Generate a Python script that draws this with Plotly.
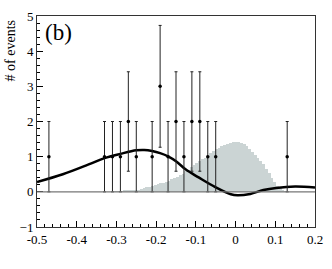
import numpy as np
import plotly.graph_objects as go

# Data points (events) with sqrt(N) errors
pt_x = [-0.47, -0.33, -0.31, -0.29, -0.27, -0.25, -0.21, -0.19, -0.17, -0.15,
        -0.13, -0.11, -0.09, -0.07, -0.05, 0.13]
pt_y = [1, 1, 1, 1, 2, 1, 1, 3, 1, 2, 1, 2, 2, 1, 1, 1]

# Histogram (bin width 0.007), bin centers and heights
hist_w = 0.007
hist_x0 = -0.3075
hist_y = [0.01, 0.01, 0.02, 0.02, 0.03, 0.03, 0.04, 0.05, 0.05, 0.06,
          0.08, 0.10, 0.13, 0.15, 0.18, 0.20, 0.22, 0.24, 0.26, 0.29,
          0.32, 0.36, 0.39, 0.43, 0.47, 0.52, 0.58, 0.63, 0.70, 0.76,
          0.83, 0.88, 0.93, 0.97, 1.03, 1.10, 1.16, 1.22, 1.26, 1.30,
          1.33, 1.36, 1.39, 1.41, 1.42, 1.42, 1.40, 1.36, 1.30, 1.22,
          1.12, 1.04, 0.96, 0.88, 0.78, 0.66, 0.53, 0.40, 0.28, 0.18,
          0.10, 0.05, 0.02]
hist_x = [round(hist_x0 + i * hist_w, 4) for i in range(len(hist_y))]

# Fitted curve
curve_x = [-0.5, -0.435, -0.37, -0.33, -0.29, -0.25, -0.23, -0.21, -0.19, -0.17,
           -0.15, -0.126, -0.093, -0.052, -0.012, 0.005, 0.037, 0.07, 0.102, 0.15, 0.2]
curve_y = [0.28, 0.5, 0.78, 0.96, 1.08, 1.18, 1.19, 1.16, 1.10, 1.01,
           0.87, 0.64, 0.41, 0.14, -0.07, -0.1, -0.06, 0.05, 0.11, 0.15, 0.12]

x_ticks = [-0.5, -0.4, -0.3, -0.2, -0.1, 0, 0.1, 0.2]
x_labels = ["-0.5", "-0.4", "-0.3", "-0.2", "-0.1", "0", "0.1", "0.2"]
y_ticks = [-1, 0, 1, 2, 3, 4, 5]

fig = go.Figure()
fig.add_trace(go.Bar(x=hist_x, y=hist_y, width=hist_w,
                     marker=dict(color="#cbd4d4", line=dict(width=0)),
                     showlegend=False))
fig.add_shape(type="line", xref="paper", x0=0, x1=1, yref="y", y0=0, y1=0,
              line=dict(color="#777777", width=1.2))
fig.add_trace(go.Scatter(x=curve_x, y=curve_y, mode="lines",
                         line=dict(color="black", width=2.5, shape="spline", smoothing=1.0),
                         showlegend=False))
fig.add_trace(go.Scatter(x=pt_x, y=pt_y, mode="markers",
                         marker=dict(color="black", size=3.5, symbol="circle"),
                         error_y=dict(type="data", array=list(np.sqrt(pt_y)),
                                      color="#222222", thickness=1, width=1.5),
                         showlegend=False))

font = "Liberation Serif"
fig.update_layout(
    width=332, height=269,
    margin=dict(l=37, r=9, t=9, b=42),
    paper_bgcolor="white", plot_bgcolor="white",
    bargap=0,
    font=dict(family=font, size=13, color="black"),
    xaxis=dict(range=[-0.5, 0.2], tickvals=x_ticks, ticktext=x_labels,
               ticks="inside", ticklen=6, tickwidth=1, tickcolor="black",
               showline=True, linecolor="#333333", linewidth=1, mirror=True,
               showgrid=False, zeroline=False,
               minor=dict(dtick=0.02, tick0=0, ticks="inside", ticklen=3,
                          tickcolor="black", showgrid=False),
               tickfont=dict(family=font, size=13)),
    yaxis=dict(range=[-1, 5], tickvals=y_ticks,
               ticks="inside", ticklen=6, tickwidth=1, tickcolor="black",
               showline=True, linecolor="#333333", linewidth=1, mirror=True,
               showgrid=False, zeroline=False,
               minor=dict(dtick=0.2, tick0=0, ticks="inside", ticklen=3,
                          tickcolor="black", showgrid=False),
               tickfont=dict(family=font, size=13)),
    annotations=[
        dict(text="(b)", xref="paper", yref="paper", x=0.02, y=0.99,
             xanchor="left", yanchor="top", showarrow=False,
             font=dict(family=font, size=23, color="black")),
        dict(text="# of events", xref="paper", yref="paper", x=-0.095, y=0.835,
             xanchor="center", yanchor="middle", textangle=-90, showarrow=False,
             font=dict(family=font, size=14, color="black")),
    ],
)

fig.write_html("out.html", config={"displayModeBar": False},
               post_script="document.body.style.margin='0';")
